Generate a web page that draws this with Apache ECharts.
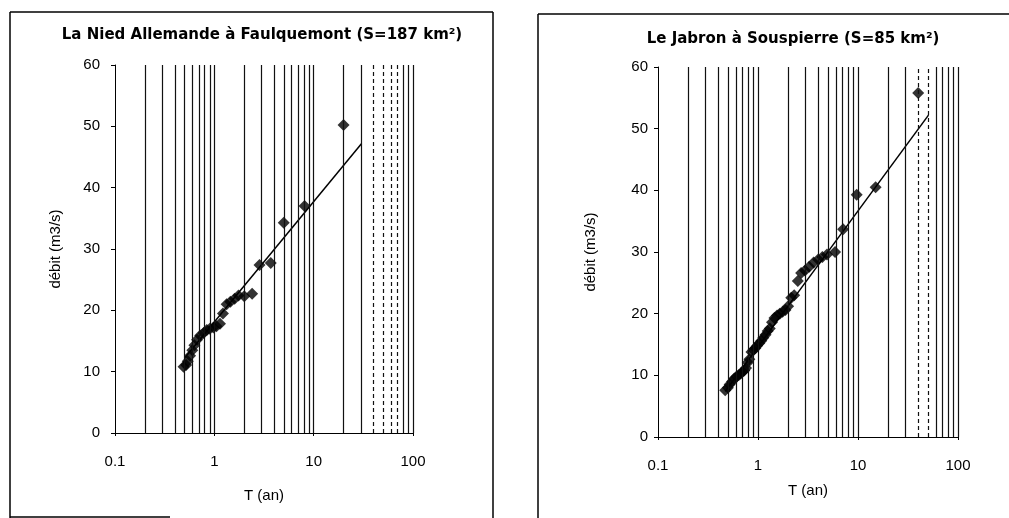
<!DOCTYPE html>
<html><head><meta charset="utf-8">
<script src="https://cdn.jsdelivr.net/npm/echarts@6/dist/echarts.min.js"></script>
<style>html,body{margin:0;padding:0;background:#fff}#c{width:1009px;height:518px}</style>
</head><body><div id="c"></div>
<script>
// ---------- data ----------
const titleLeft = 'La Nied Allemande à Faulquemont (S=187 km²)';
const titleRight = 'Le Jabron à Souspierre (S=85 km²)';
const xName = 'T (an)';
const yName = 'débit (m3/s)';
const xTickValues = [0.1, 1, 10, 100];
const xTickLabels = ['0.1', '1', '10', '100'];
const logGridValues = [0.2,0.3,0.4,0.5,0.6,0.7,0.8,0.9,1,2,3,4,5,6,7,8,9,10,20,30,40,50,60,70,80,90,100];
const dashedLeft = [40,50,60,70];
const dashedRight = [40,50];

// La Nied Allemande à Faulquemont : return period T (years), discharge Q (m3/s)
const tLeft = [20, 8.1, 5.0, 3.7, 2.85, 2.4, 2.0, 1.75, 1.6, 1.45, 1.33, 1.22, 1.14, 1.05, 0.98, 0.9, 0.84, 0.78, 0.72, 0.67, 0.63, 0.6, 0.57, 0.54, 0.52, 0.49];
const qLeft = [50.2, 37.0, 34.3, 27.7, 27.4, 22.7, 22.3, 22.4, 21.9, 21.4, 21.0, 19.5, 17.8, 17.4, 17.2, 17.0, 16.8, 16.3, 15.9, 15.2, 14.3, 13.5, 12.6, 11.7, 11.1, 10.8];
const fitLeftT = [0.5, 30.4];
const fitLeftQ = [12.2, 47.2];

// Le Jabron à Souspierre
const tRight = [40, 15, 9.7, 7.1, 5.9, 4.9, 4.4, 4.0, 3.6, 3.25, 2.95, 2.7, 2.5, 2.3, 2.15, 2.0, 1.88, 1.76, 1.65, 1.55, 1.46, 1.38, 1.31, 1.25, 1.19, 1.13, 1.08, 1.03, 0.98, 0.94, 0.9, 0.86, 0.82, 0.79, 0.76, 0.73, 0.70, 0.67, 0.64, 0.61, 0.58, 0.55, 0.52, 0.50, 0.47];
const qRight = [55.8, 40.5, 39.3, 33.7, 30.0, 29.6, 29.2, 28.8, 28.3, 27.6, 27.0, 26.6, 25.3, 23.0, 22.6, 21.2, 20.6, 20.3, 20.0, 19.7, 19.3, 18.6, 17.6, 17.2, 16.6, 16.1, 15.6, 15.2, 14.8, 14.4, 14.1, 13.8, 12.6, 12.1, 11.2, 10.8, 10.6, 10.3, 10.0, 9.8, 9.5, 9.0, 8.5, 8.0, 7.6];
const fitRightT = [0.47, 50.7];
const fitRightQ = [7.4, 52.2];

// ---------- chart ----------
const FONT = 'Liberation Sans, Arial, sans-serif';
const TITLE_FONT = 'DejaVu Sans, Liberation Sans, sans-serif';
const chart = echarts.init(document.getElementById('c'), null, {renderer: 'canvas'});

function xLabel(v) {
  let best = 0, bd = Infinity;
  xTickValues.forEach((t, i) => { const d = Math.abs(Math.log10(v) - Math.log10(t)); if (d < bd) { bd = d; best = i; } });
  return bd < 0.01 ? xTickLabels[best] : '';
}
function pairs(a, b) { return a.map((v, i) => [v, b[i]]); }
function gridLines(dashed) {
  return logGridValues.map(v => ({
    xAxis: v,
    lineStyle: {color: '#111', width: 1.2, type: dashed.indexOf(v) >= 0 ? [4, 3] : 'solid'}
  }));
}
function xAxisCfg(idx, nameGap) {
  return {
    type: 'log', logBase: 10, gridIndex: idx, min: 0.1, max: 100,
    name: xName, nameLocation: 'middle', nameGap: nameGap,
    nameTextStyle: {fontFamily: FONT, fontSize: 15, color: '#000'},
    axisLine: {show: true, lineStyle: {color: '#000', width: 1}},
    axisTick: {show: true, length: 3, lineStyle: {color: '#000'}},
    axisLabel: {fontFamily: FONT, fontSize: 15, color: '#000', margin: 21, formatter: xLabel},
    splitLine: {show: false}, minorTick: {show: false}, minorSplitLine: {show: false}
  };
}
function yAxisCfg(idx, margin, nameGap) {
  return {
    type: 'value', gridIndex: idx, min: 0, max: 60, interval: 10,
    name: yName, nameLocation: 'middle', nameGap: nameGap, nameRotate: 90,
    nameTextStyle: {fontFamily: FONT, fontSize: 15, color: '#000'},
    axisLine: {show: true, lineStyle: {color: '#000', width: 1}},
    axisTick: {show: true, length: 4, lineStyle: {color: '#000'}},
    axisLabel: {fontFamily: FONT, fontSize: 15, color: '#000', margin: margin},
    splitLine: {show: false}
  };
}
function seriesFor(idx, t, q, ft, fq, dashed) {
  return [
    {
      type: 'line', xAxisIndex: idx, yAxisIndex: idx, data: [], silent: true,
      markLine: {silent: true, symbol: ['none', 'none'], label: {show: false}, animation: false, data: gridLines(dashed)},
      z: 1
    },
    {
      type: 'line', xAxisIndex: idx, yAxisIndex: idx, data: pairs(ft, fq), showSymbol: false,
      lineStyle: {color: '#000', width: 1.5}, z: 3
    },
    {
      type: 'scatter', xAxisIndex: idx, yAxisIndex: idx, data: pairs(t, q),
      symbol: 'diamond', symbolSize: [12, 12], itemStyle: {color: '#000'}, z: 4
    }
  ];
}

const option = {
  animation: false,
  backgroundColor: '#fff',
  title: [
    {text: titleLeft, left: 257, top: 23, textAlign: 'center',
     textStyle: {fontFamily: TITLE_FONT, fontSize: 15, fontWeight: 'bold', color: '#000'}},
    {text: titleRight, left: 788, top: 27, textAlign: 'center',
     textStyle: {fontFamily: TITLE_FONT, fontSize: 15, fontWeight: 'bold', color: '#000'}}
  ],
  grid: [
    {left: 115, top: 65, width: 298, height: 368},
    {left: 658, top: 67, width: 300, height: 370}
  ],
  xAxis: [xAxisCfg(0, 55), xAxisCfg(1, 46)],
  yAxis: [yAxisCfg(0, 15, 52), yAxisCfg(1, 10, 60)],
  series: [].concat(
    seriesFor(0, tLeft, qLeft, fitLeftT, fitLeftQ, dashedLeft),
    seriesFor(1, tRight, qRight, fitRightT, fitRightQ, dashedRight)
  ),
  graphic: [
    {type: 'line', shape: {x1: 10, y1: 12, x2: 493, y2: 12}, style: {stroke: '#000', lineWidth: 1.5}},
    {type: 'line', shape: {x1: 10, y1: 12, x2: 10, y2: 518}, style: {stroke: '#000', lineWidth: 1.5}},
    {type: 'line', shape: {x1: 493, y1: 12, x2: 493, y2: 518}, style: {stroke: '#000', lineWidth: 1.5}},
    {type: 'line', shape: {x1: 10, y1: 517, x2: 170, y2: 517}, style: {stroke: '#000', lineWidth: 1.5}},
    {type: 'line', shape: {x1: 538, y1: 14, x2: 1009, y2: 14}, style: {stroke: '#000', lineWidth: 1.5}},
    {type: 'line', shape: {x1: 538, y1: 14, x2: 538, y2: 518}, style: {stroke: '#000', lineWidth: 1.5}}
  ]
};
chart.setOption(option);
</script>
</body></html>
